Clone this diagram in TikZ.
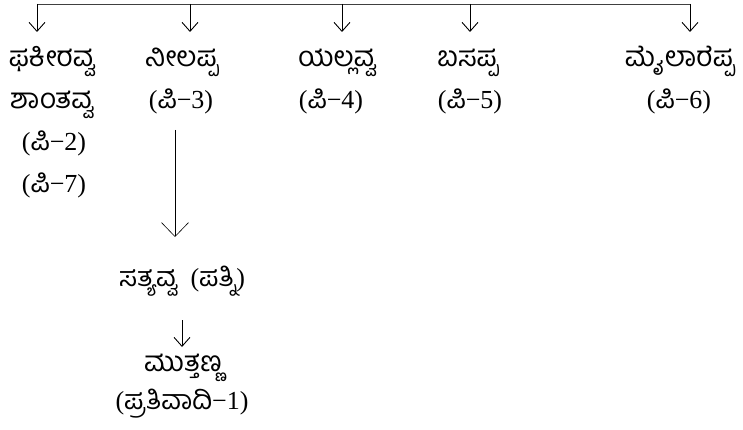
\documentclass[tikz,border=0pt]{standalone}
\usepackage{fontspec}
\setmainfont{Liberation Serif}
\newfontfamily\kn[Script=Kannada]{Hind Mysuru}
\newcommand{\kk}[1]{{\fontsize{27}{30}\selectfont\kn #1}}
\usetikzlibrary{arrows.meta}
\begin{document}
\begin{tikzpicture}[x=1pt,y=-1pt,
  lbl/.style={inner sep=0pt,anchor=base,font=\fontsize{26}{30}\selectfont},
  kan/.style={inner sep=0pt,anchor=base,font=\fontsize{28}{32}\selectfont\kn},
  conn/.style={line width=0.9pt,draw=black!75},
  small/.style={line width=0.9pt,-{Straight Barb[length=9pt,width=16pt,line width=0.9pt]}},
  big/.style={line width=0.6pt,-{Straight Barb[length=14pt,width=27pt,line width=0.6pt]}}]
\useasboundingbox (0,0) rectangle (743,430);
% top bus
\coordinate (bl) at (37,4);
\coordinate (br) at (690,4);
\coordinate (b2) at (190,4);
\coordinate (b3) at (342,4);
\coordinate (b4) at (470,4);
\coordinate (a1) at (37,32);
\coordinate (a2) at (190,32);
\coordinate (a3) at (342,32);
\coordinate (a4) at (470,32);
\coordinate (a5) at (690,32);
\draw[conn] (bl) -- (br);
\draw[small] (bl) -- (a1);
\draw[small] (b2) -- (a2);
\draw[small] (b3) -- (a3);
\draw[small] (b4) -- (a4);
\draw[small] (br) -- (a5);
% column 1
\node[kan] (c1a) at (52,67) {ಫಕೀರವ್ವ};
\node[kan] (c1b) at (52,109) {ಶಾಂತವ್ವ};
\node[lbl] (c1c) at (54,151) {(\kk{ಪಿ}−2)};
\node[lbl] (c1d) at (54,193) {(\kk{ಪಿ}−7)};
% column 2
\node[kan] (c2a) at (182,67) {ನೀಲಪ್ಪ};
\node[lbl] (c2b) at (181,109) {(\kk{ಪಿ}−3)};
% column 3
\node[kan] (c3a) at (337,67) {ಯಲ್ಲವ್ವ};
\node[lbl] (c3b) at (331,109) {(\kk{ಪಿ}−4)};
% column 4
\node[kan] (c4a) at (468,67) {ಬಸಪ್ಪ};
\node[lbl] (c4b) at (470,109) {(\kk{ಪಿ}−5)};
% column 5
\node[kan] (c5a) at (680,67) {ಮೈಲಾರೆಪ್ಪ};
\node[lbl] (c5b) at (679,109) {(\kk{ಪಿ}−6)};
% lower chain
\coordinate (l1) at (175,130);
\coordinate (l2) at (175,237);
\draw[big] (l1) -- (l2);
\node[lbl] (s) at (182,286) {\kk{ಸತ್ಯವ್ವ}\ \ (\kk{ಪತ್ನಿ})};
\coordinate (m1) at (182,320);
\coordinate (m2) at (182,347);
\draw[small] (m1) -- (m2);
\node[kan] (mu) at (183,371) {ಮುತ್ತಣ್ಣ};
\node[lbl] (pr) at (182,409) {(\kk{ಪ್ರತಿವಾದಿ}−1)};
\end{tikzpicture}
\end{document}
